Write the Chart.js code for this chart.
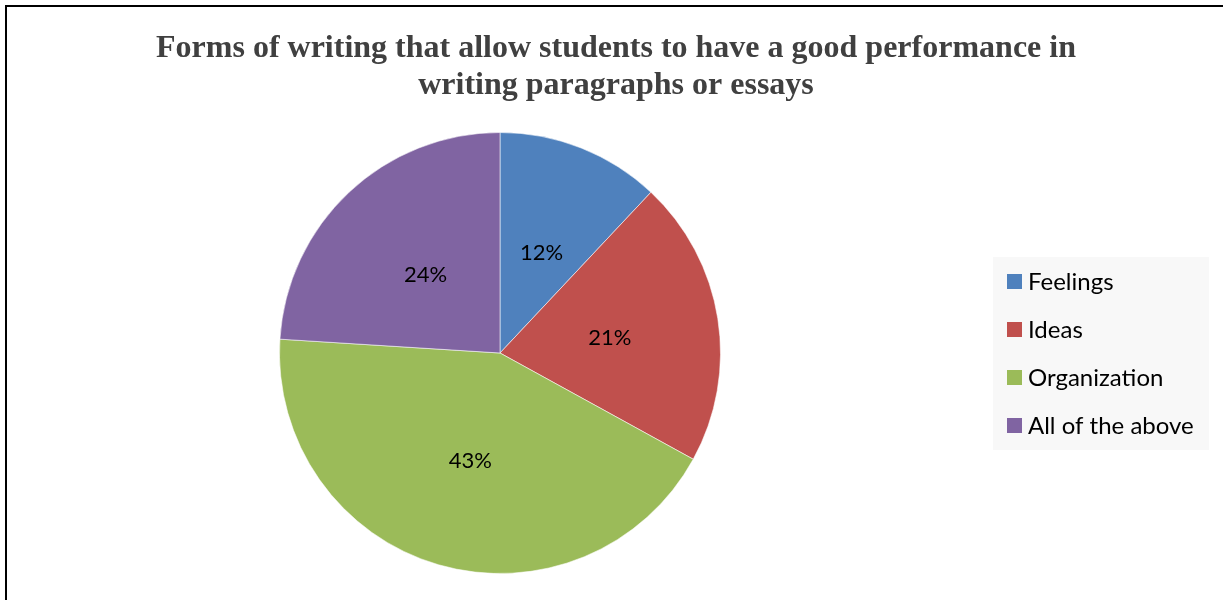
<!DOCTYPE html>
<html>
<head>
<meta charset="utf-8">
<script src="https://cdn.jsdelivr.net/npm/chart.js@4.4.1/dist/chart.umd.min.js"></script>
<style>
  html, body { margin: 0; padding: 0; background: #ffffff; overflow: hidden; }
  #frame {
    position: absolute; left: 5px; top: 5px; width: 1230px; height: 620px;
    border-left: 2px solid #000; border-top: 2px solid #000; box-sizing: border-box;
  }
  #wrap { position: absolute; left: 0; top: 0; width: 1223px; height: 600px; }
</style>
</head>
<body>
<div id="frame"></div>
<div id="wrap"><canvas id="chart" width="1223" height="600"></canvas></div>
<script>
// Survey answers and their shares (percent)
const TITLE_LINES = [
  'Forms of writing that allow students to have a good performance in',
  'writing paragraphs or essays'
];
const CATEGORIES = ['Feelings', 'Ideas', 'Organization', 'All of the above'];
const SHARES = [12, 21, 43, 24];
const COLORS = ['#4F81BD', '#C0504D', '#9BBB59', '#8064A2'];

const LABEL_FONT = '"Lato", "Open Sans", sans-serif';

// Two-line bold serif heading
const titlePlugin = {
  id: 'headline',
  afterDraw(chart) {
    const ctx = chart.ctx;
    ctx.save();
    ctx.fillStyle = '#404040';
    ctx.font = 'bold 32px "Liberation Serif", "Times New Roman", serif';
    ctx.textAlign = 'center';
    ctx.textBaseline = 'alphabetic';
    const cx = 616;
    TITLE_LINES.forEach((line, i) => ctx.fillText(line, cx, 57 + i * 37));
    ctx.restore();
  }
};

// Percentage labels placed at each slice's midpoint
const sliceLabels = {
  id: 'sliceLabels',
  afterDatasetsDraw(chart) {
    const ctx = chart.ctx;
    const meta = chart.getDatasetMeta(0);
    ctx.save();
    ctx.fillStyle = '#000000';
    ctx.font = '22px ' + LABEL_FONT;
    ctx.textAlign = 'center';
    ctx.textBaseline = 'middle';
    meta.data.forEach((arc, i) => {
      const p = arc.tooltipPosition();
      ctx.fillText(SHARES[i] + '%', p.x + 1, p.y + 2);
    });
    ctx.restore();
  }
};

// Boxed legend to the right of the pie
const sideLegend = {
  id: 'sideLegend',
  afterDraw(chart) {
    const ctx = chart.ctx;
    const box = { x: 993, y: 257, w: 216, h: 193 };
    ctx.save();
    ctx.fillStyle = '#F8F8F8';
    ctx.fillRect(box.x, box.y, box.w, box.h);
    ctx.font = '24px ' + LABEL_FONT;
    ctx.textBaseline = 'middle';
    ctx.textAlign = 'left';
    CATEGORIES.forEach((name, i) => {
      const cy = 281.5 + i * 48;
      ctx.fillStyle = COLORS[i];
      ctx.fillRect(1007, cy - 7.5, 15, 15);
      ctx.fillStyle = '#000000';
      ctx.fillText(name, 1028, cy + 1);
    });
    ctx.restore();
  }
};

new Chart(document.getElementById('chart'), {
  type: 'pie',
  data: {
    labels: CATEGORIES,
    datasets: [{
      data: SHARES,
      backgroundColor: COLORS,
      borderColor: 'rgba(255,255,255,0.55)',
      borderWidth: 1
    }]
  },
  options: {
    responsive: false,
    animation: false,
    layout: { padding: { left: 279, right: 502, top: 132, bottom: 26 } },
    plugins: {
      legend: { display: false },
      title: { display: false },
      tooltip: { enabled: false }
    }
  },
  plugins: [titlePlugin, sliceLabels, sideLegend]
});
</script>
</body>
</html>
